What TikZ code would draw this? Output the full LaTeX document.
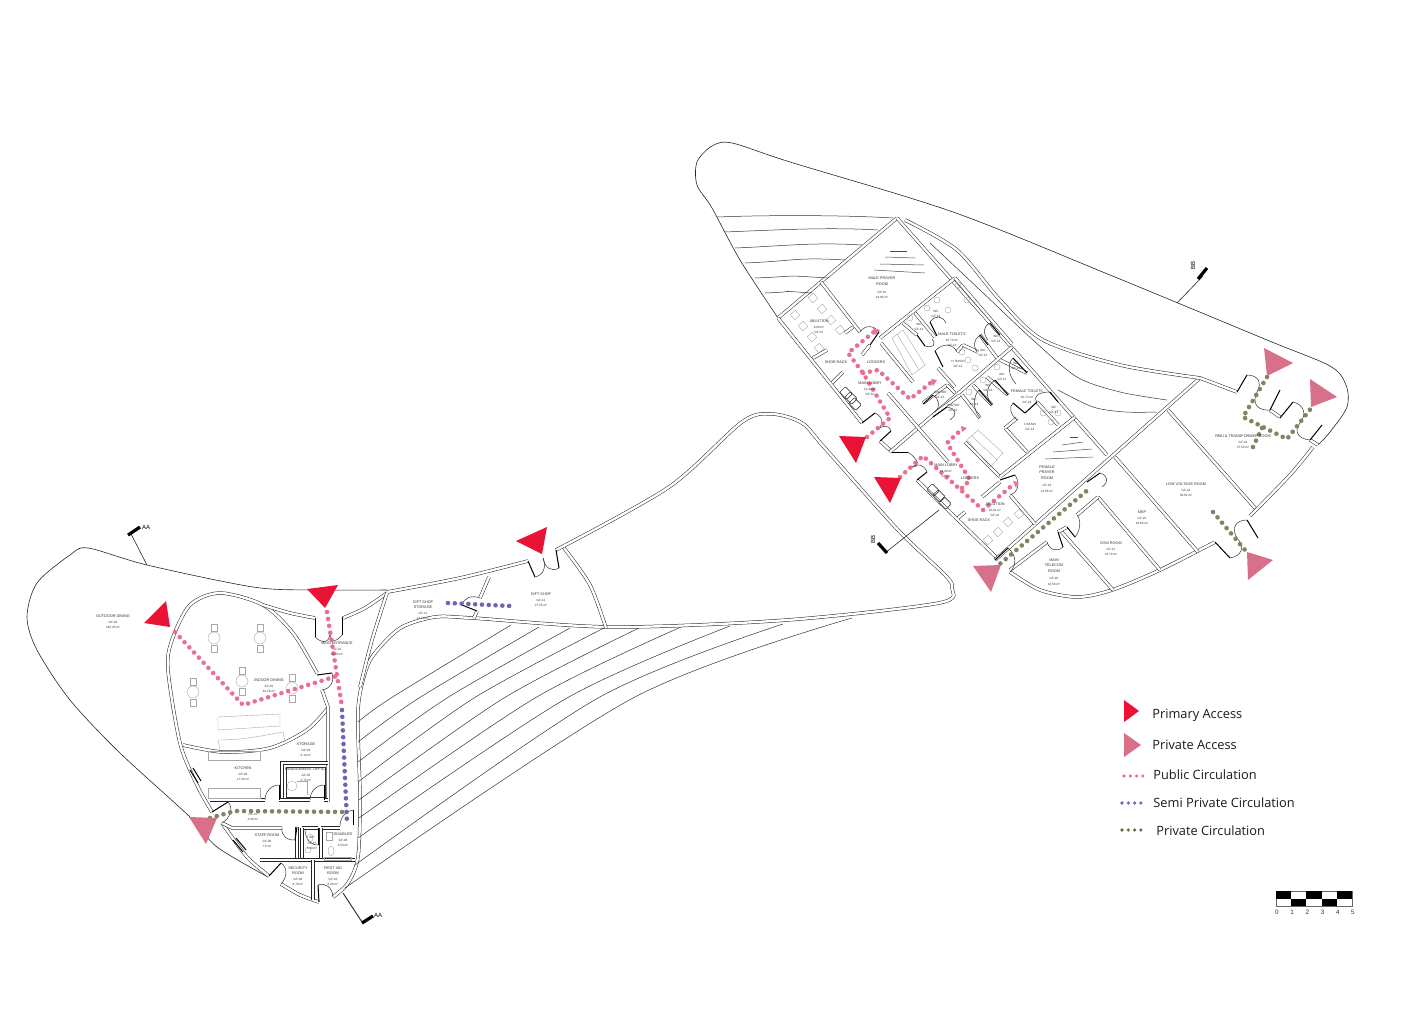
\documentclass[tikz,border=0pt]{standalone}
\usepackage{fontspec}
\setmainfont{Liberation Sans}
\newfontfamily\legendfont{Open Sans}
\usetikzlibrary{calc}
\definecolor{primred}{HTML}{EA1235}
\definecolor{privpink}{HTML}{D9708A}
\definecolor{pubdot}{HTML}{E9718F}
\definecolor{semidot}{HTML}{6F65B2}
\definecolor{olivedot}{HTML}{7F8560}
\definecolor{olivekey}{HTML}{6B6845}
\definecolor{fixgray}{HTML}{A8A8A8}
\newcommand{\subl}[1]{{\fontsize{1.55}{2.4}\selectfont #1}}
% hinge, open end of leaf, end of swing
\newcommand{\door}[3]{\draw[leaf] (#1) -- (#2);
  \draw[swing] (#2) .. controls ($(#2)+.55*(#3)-.55*(#1)$) and ($(#3)+.55*(#2)-.55*(#1)$) .. (#3);}
\begin{document}
\begin{tikzpicture}[x=0.5pt,y=-0.5pt,
    site/.style ={draw=black!85, line width=.3pt},
    wall/.style ={draw=black!85, line width=.25pt, double=white, double distance=1.2pt},
    stripeline/.style ={draw=black!80, line width=.25pt},
    leaf/.style ={draw=black, line width=.5pt},
    swing/.style ={draw=black!80, line width=.25pt},
    fixture/.style ={draw=fixgray, line width=.2pt},
    hatch/.style ={draw=black!70, line width=.25pt},
    roomtxt/.style ={align=center, inner sep=0pt, text=black!80, font=\fontsize{1.9}{2.7}\selectfont},
    keytxt/.style ={anchor=west, inner sep=0pt, text=black!90, font=\legendfont\fontsize{6.4}{8}\selectfont},
    scaletxt/.style ={inner sep=0pt, text=black!80, font=\fontsize{3.2}{4}\selectfont},
    cuttxt/.style ={inner sep=0pt, text=black, font=\fontsize{3}{4}\selectfont},
    primtri/.style ={fill=primred, draw=none},
    privtri/.style ={fill=privpink, draw=none},
    pubpath/.style ={draw=pubdot, line width=2.3pt, line cap=round, dash pattern=on 0pt off 3.5pt},
    semipath/.style ={draw=semidot, line width=2.3pt, line cap=round, dash pattern=on 0pt off 3.4pt},
    privpath/.style ={draw=olivedot, line width=2.3pt, line cap=round, dash pattern=on 0pt off 3.5pt},
    tipmark/.style ={fill=pubdot, draw=none}]
  \useasboundingbox (0,0) rectangle (1413,1012);

  % site outlines
  \draw[site] plot[smooth] coordinates {(268,877) (217,847) (190,817) (120,753) (70,700) (37,650) (27,617) (37,583) (70,555) (88,548) (147,565) (253,587) (313,590) (387,590)};
  \draw[site] plot[smooth] coordinates {(778,318) (740,260) (712,208) (697,185) (697,162) (712,146) (732,143) (790,162) (953,212) (1110,275) (1267,340) (1330,366) (1346,385) (1347,407) (1330,432) (1318,445)};

  % middle wing
  \draw[wall] plot[smooth] coordinates {(387,592) (460,578) (528,561)};
  \draw[wall] plot[smooth] coordinates {(556,550) (669,487) (742,422) (772,414) (802,423) (824,447) (898,530) (945,575) (952,588) (939,603) (787,620) (613,627) (472,618) (435,617) (402,627) (380,647) (367,667) (358,710) (360,797) (358,857) (348,883) (333,897)};
  \draw[wall] plot[smooth] coordinates {(564,548) (590,585) (606,628)};
  \draw[wall] (489,577) -- (480,598);
  \draw[wall] (477,611) -- (474,618);
  \door{528,561}{535,577}{543,558}
  \door{556,550}{559,568}{543,558}
  \door{477,611}{462,605}{480,598}

  % parking stripes
  \foreach \a/\b/\c/\d/\e in {358/722/391/511/625,358/742/419/539/627,358/762/447/570/628,358/782/474/604/628,359/800/504/639/628,359/818/535/681/627,358/838/567/730/626,355/865/598/783/624,345/888/633/852/618}
    \draw[stripeline] plot[smooth] coordinates {(\a,\b) (\c,698) (\d,\e)};

  % left building walls
  \draw[wall] plot[smooth] coordinates {(317,673) (293,633) (263,605) (220,593) (190,605) (172,640) (168,670) (180,743) (197,785) (212,812)};
  \draw[wall] plot[smooth] coordinates {(222,823) (247,857) (269,876)};
  \draw[wall] plot[smooth] coordinates {(281,884) (300,895) (319,902)};
  \draw[wall] plot[smooth] coordinates {(263,605) (290,613) (315,618)};
  \draw[wall] plot[smooth] coordinates {(343,618) (365,608) (387,593)};
  \draw[wall] plot[smooth] coordinates {(387,593) (372,640) (360,687)};
  \draw[wall] plot[smooth] coordinates {(183,745) (223,752) (270,748) (307,730) (328,708)};
  \draw[wall] (322,690) -- (328,707) -- (328,802);
  \draw[wall] (282,800) -- (282,763) -- (328,763);
  \draw[wall] (210,800) -- (265,800);
  \draw[wall] (279,800) -- (310,800);
  \draw[wall] (324,800) -- (328,800);
  \draw[wall] (222,823) -- (232,828) -- (282,828);
  \draw[wall] (297,827) -- (297,860);
  \draw[wall] (302,828) -- (318,828);
  \draw[wall] (302,828) -- (302,860);
  \draw[wall] (321,828) -- (340,828);
  \draw[wall] (321,828) -- (321,860);
  \draw[wall] (260,860) -- (355,860);
  \draw[wall] (313,860) -- (313,900);
  \draw[swing] (286,767) rectangle (325,797);
  \door{315,618}{315,637}{330,632}
  \door{342,617}{342,635}{330,632}
  \door{317,675}{332,673}{322,690}
  \door{279,800}{279,785}{265,800}
  \door{324,800}{324,785}{310,800}
  \door{212,812}{228,802}{222,823}
  \door{297,827}{295,840}{282,828}
  \door{318,828}{318,845}{305,829}
  \door{353,825}{353,810}{340,826}
  \door{269,876}{281,863}{281,884}
  \door{319,902}{318,885}{333,897}
  \draw[leaf] (190,770) -- (198,783);
  \draw[leaf] (193,768) -- (201,781);
  \draw[leaf] (233,840) -- (243,852);
  \draw[leaf] (236,838) -- (246,850);

  % dining furniture
  \foreach \x/\y [count=\i] in {214/638,260/638,242/681,292/688,193/692} {
    \draw[fixture] (\x,\y) circle (6);
    \draw[fixture] (\x-3,\y-14) rectangle (\x+3,\y-7);
    \draw[fixture] (\x-3,\y+7) rectangle (\x+3,\y+14);
  }
  \draw[fixture] (218,717) -- (280,714) -- (280,726) -- (218,730) -- cycle;
  \draw[fixture] (218,740) .. controls (245,740) and (265,735) .. (283,732);
  \draw[fixture] (218,740) -- (220,749);
  \draw[fixture] (283,732) -- (285,742);
  \draw[fixture] (208,751) rectangle (260,760);
  \draw[fixture] (208,788) rectangle (260,798);
  \draw[fixture] (292,786) circle (5);
  \draw[fixture] (297,781) -- (307,781) -- (307,795);
  \draw[fixture] (310,838) ellipse (3 and 4);
  \draw[fixture] (308,850) circle (3);
  \draw[fixture] (326,832) rectangle (332,840);
  \draw[fixture] (331,851) ellipse (3 and 5);
  \draw[fixture] (324,857) rectangle (351,860);

  % right building, envelope
  \draw[wall] (778,318) -- (897,218);
  \draw[wall] (897,218) -- (1107,455);
  \draw[wall] (778,318) -- (862,423);
  \draw[wall] (880,441) -- (892,452);
  \draw[wall] (917,480) -- (997,558);
  \draw[wall] (995,560) -- (1200,378) -- (1237,392);
  \draw[wall] plot[smooth] coordinates {(1010,572) (1040,590) (1077,597) (1112,590) (1160,570) (1215,542)};
  \draw[wall] plot[smooth] coordinates {(1250,516) (1290,475) (1313,447)};

  % curves above the building
  \draw[wall] plot[smooth] coordinates {(905,220) (957,250) (1000,300) (1043,340) (1120,365) (1200,378)};
  \draw[stripeline] plot[smooth] coordinates {(930,243) (980,290) (1033,340) (1077,377) (1120,392) (1167,400)};
  \draw[stripeline] plot[smooth] coordinates {(1058,390) (1093,407) (1125,412) (1157,412)};
  \foreach \a/\b/\c/\d in {717/217/893/218,725/232/878/230,735/248/862/245,745/263/845/260,755/278/828/278,765/293/812/293}
    \draw[stripeline] (\a,\b) .. controls (\a+50,\b-2) and (\c-50,\d-3) .. (\c,\d);

  % right building, rooms
  \draw[wall] (821,282) -- (860,332);
  \draw[wall] (880,338) -- (955,278);
  \draw[wall] (890,452) -- (1012,347);
  \draw[wall] (881,343) -- (913,382);
  \draw[wall] (888,393) -- (948,462);
  \draw[wall] (965,442) -- (1000,477);
  \draw[wall] (1000,477) -- (1075,417);
  \draw[wall] (982,497) -- (1000,482);
  \draw[wall] (1010,495) -- (1035,524);
  \draw[wall] (955,278) -- (1012,344);
  \draw[wall] (845,333) -- (853,327);
  \draw[wall] (862,355) -- (870,345);
  \draw[wall] (813,358) -- (827,350);
  \draw[wall] (832,383) -- (843,372);
  \draw[wall] (958,518) -- (965,512);
  \draw[wall] (1115,457) -- (1198,552);
  \draw[wall] (1168,410) -- (1255,508);
  \draw[wall] (1098,497) -- (1160,570);
  \draw[wall] (1060,530) -- (1113,590);
  \draw[wall] (1010,570) -- (1047,542);
  \draw[wall] (1058,532) -- (1067,527);
  \draw[wall] (1077,515) -- (1098,497);
  \draw[wall] (1270,410) -- (1280,417);
  \draw[wall] (1310,440) -- (1318,445);

  % toilets
  \foreach \a/\b/\c/\d in {903/323/917/335,915/313/935/337,938/368/955/387,957/352/963/345,963/345/978/352,980/335/997/358,962/395/980/418,973/385/992/405,987/377/1008/395,1000/360/1027/373,1005/428/1027/452,1005/428/1017/418,1037/402/1058/425,923/403/947/385,933/415/960/395,947/385/955/393}
    \draw[wall] (\a,\b) -- (\c,\d);
  \door{862,423}{875,413}{877,430}
  \door{880,441}{891,431}{877,430}
  \door{892,452}{908,452}{912,467}
  \door{917,480}{927,472}{912,467}
  \door{870,345}{879,332}{860,332}
  \door{1000,480}{1015,475}{1010,495}
  \door{917,335}{925,346}{932,339}
  \door{937,336}{930,322}{946,323}
  \door{943,367}{935,351}{957,352}
  \door{988,345}{980,335}{977,352}
  \door{1000,335}{990,323}{988,340}
  \door{992,405}{979,390}{980,418}
  \door{1008,395}{995,380}{992,405}
  \door{1027,373}{1013,358}{1016,384}
  \door{1025,413}{1013,403}{1017,420}
  \draw[leaf] (1025,413) -- (1037,402);
  \door{1058,402}{1050,392}{1037,402}
  \door{923,404}{933,395}{935,412}
  \door{933,417}{947,407}{950,420}
  \door{1087,482}{1100,473}{1102,487}
  \door{1058,532}{1063,547}{1047,542}
  \door{1067,527}{1075,537}{1077,515}
  \door{995,560}{1008,548}{1010,572}
  \door{1215,542}{1230,558}{1237,538}
  \door{1258,538}{1247,520}{1237,538}
  \door{1237,392}{1247,375}{1257,392}
  \door{1280,390}{1270,410}{1257,392}
  \door{1280,418}{1293,402}{1300,423}
  \door{1322,425}{1310,440}{1300,423}

  % fixtures
  \foreach \x/\y [count=\i] in {813/298,822/309,795/315,803/326,831/320,812/337,840/330,819/348,988/540,998/532,1008/522,1019/514} {
    \node[fixture, draw, rotate=40, minimum size=3.4pt, inner sep=0pt] (fix\i) at (\x,\y) {};
  }
  \foreach \x/\y in {910/318,927/308,962/352,968/360,975/368,997/367,983/380,969/392,1043/413,1051/422,1058/413,937/300,948/310,958/285,967/300}
    \draw[fixture] (\x,\y) circle (3);
  \draw[fixture] (892,338) -- (903,330) -- (925,365) -- (912,375) -- cycle;
  \draw[fixture] (897,334) -- (919,370);
  \draw[fixture] (967,440) -- (978,430) -- (1003,453) -- (990,467) -- cycle;
  \draw[fixture] (972,436) -- (997,460);
  \foreach \x/\y [count=\i] in {846/393,851/398,855/404,933/490,939/496,945/503} {
    \node[draw=black!75, line width=.3pt, rotate=45, minimum width=4pt, minimum height=5pt, inner sep=0pt, rounded corners=.5pt] (seat\i) at (\x,\y) {};
  }
  \draw[hatch] (890,251) -- (907,251);
  \draw[hatch] (885,257) -- (915,258);
  \draw[hatch] (880,264) -- (924,265);
  \draw[hatch] (874,270) -- (925,273);
  \draw[hatch] (1070,437) -- (1078,437);
  \draw[hatch] (1062,445) -- (1083,442);
  \draw[hatch] (1053,452) -- (1092,449);
  \draw[hatch] (1045,459) -- (1093,457);

  % circulation
  \draw[pubpath] (175,632) -- (243,705) -- (337,676);
  \draw[pubpath] (327,612) -- (342,707);
  \draw[semipath] (342,710) -- (347,823);
  \draw[semipath] (448,603) -- (511,606);
  \draw[privpath] (210,818) -- (235,811) -- (347,812);
  \draw[pubpath] (867,437) -- (890,418) -- (863,373) -- (848,353) -- (875,331);
  \draw[pubpath] (863,373) -- (878,370) -- (910,399) -- (933,381);
  \draw[pubpath] (900,477) -- (923,456) -- (983,510) -- (1015,483);
  \draw[pubpath] (962,488) -- (970,480) -- (947,443) -- (963,428);
  \draw[privpath] (995,568) -- (1090,488);
  \draw[privpath] (1213,512) -- (1245,550);
  \draw[privpath] (1267,377) -- (1243,417) -- (1287,439) -- (1312,407);
  \draw[privpath] (1253,447) -- (1262,428);
  \fill[tipmark] (873,328) -- (880,330) -- (875,335) -- cycle;
  \fill[tipmark] (931,379) -- (937,380) -- (933,386) -- cycle;
  \fill[tipmark] (1013,481) -- (1018,482) -- (1016,488) -- cycle;
  \fill[tipmark] (961,426) -- (967,428) -- (962,432) -- cycle;

  % access triangles
  \fill[primtri] (144,623) -- (166,601) -- (170,627) -- cycle;
  \fill[primtri] (307,589) -- (338,585) -- (325,608) -- cycle;
  \fill[primtri] (516,541) -- (547,527) -- (542,554) -- cycle;
  \fill[primtri] (839,436) -- (866,437) -- (856,463) -- cycle;
  \fill[primtri] (874,477) -- (901,478) -- (890,503) -- cycle;
  \fill[privtri] (189,817) -- (217,818) -- (206,844) -- cycle;
  \fill[privtri] (973,566) -- (1001,565) -- (991,592) -- cycle;
  \fill[privtri] (1247,552) -- (1273,560) -- (1248,580) -- cycle;
  \fill[privtri] (1264,348) -- (1293,363) -- (1267,376) -- cycle;
  \fill[privtri] (1310,379) -- (1337,397) -- (1311,407) -- cycle;

  % section marks
  \draw[site] (147,565) -- (130,532);
  \draw[line width=1.6pt] (128,535) -- (140,527);
  \node[cuttxt] (aatop) at (146,527) {AA};
  \draw[site, line width=.45pt] (343,893) -- (362,922);
  \draw[line width=1.6pt] (362,923) -- (373,916);
  \node[cuttxt] (aabot) at (378,915) {AA};
  \draw[site] (1177,303) -- (1203,276);
  \draw[line width=1.6pt] (1198,279) -- (1207,268);
  \node[cuttxt, rotate=90] (bbtop) at (1193,265) {BB};
  \draw[site] (939,510) -- (885,553);
  \draw[line width=1.6pt] (878,543) -- (887,553);
  \node[cuttxt, rotate=90] (bbbot) at (873,539) {BB};

  % room labels, left
  \node[roomtxt] (outdoor) at (113,622) {OUTDOOR DINING\\ \subl{GF-02}\\ \subl{136.45 m²}};
  \node[roomtxt] (mainent) at (337,649) {MAIN ENTRANCE\\ \subl{GF-01}\\ \subl{15.68 m²}};
  \node[roomtxt] (indoor) at (269,686) {INDOOR DINING\\ \subl{GF-02}\\ \subl{81.28 m²}};
  \node[roomtxt] (storage) at (306,750) {STORAGE\\ \subl{GF-04}\\ \subl{9.10 m²}};
  \node[roomtxt] (kitchen) at (243,774) {KITCHEN\\ \subl{GF-03}\\ \subl{17.28 m²}};
  \node[roomtxt] (mgmt) at (306,775) {MANAGEMENT OFFICE\\ \subl{GF-05}\\ \subl{3.75 m²}};
  \node[roomtxt] (corr) at (253,817) {\subl{GF-15}\\ \subl{4.00 m²}};
  \node[roomtxt] (staff) at (267,841) {STAFF ROOM\\ \subl{GF-06}\\ \subl{7.6 m²}};
  \node[roomtxt] (wc) at (312,843) {\subl{WC}\\ \subl{GF-07}\\ \subl{2.40 m²}};
  \node[roomtxt] (disabled) at (343,840) {DISABLED\\ \subl{GF-08}\\ \subl{4.54 m²}};
  \node[roomtxt] (security) at (298,876) {SECURITY\\ROOM\\ \subl{GF-09}\\ \subl{8.76 m²}};
  \node[roomtxt] (firstaid) at (333,876) {FIRST AID\\ROOM\\ \subl{GF-10}\\ \subl{8.60 m²}};
  \node[roomtxt] (giftstor) at (423,610) {GIFT SHOP\\STORAGE\\ \subl{GF-11}\\ \subl{12.29 m²}};
  \node[roomtxt] (gift) at (541,600) {GIFT SHOP\\ \subl{GF-12}\\ \subl{27.55 m²}};

  % room labels, right
  \node[roomtxt] (maleprayer) at (882,288) {MALE PRAYER\\ROOM\\[1.5pt] \subl{GF-01}\\ \subl{24.96 m²}};
  \node[roomtxt] (ablumale) at (819,327) {ABLUTION\\ \subl{8.00 m²}\\ \subl{GF-07}};
  \node[roomtxt] (shoemale) at (836,362) {SHOE RACK};
  \node[roomtxt] (lockmale) at (876,362) {LOCKERS};
  \node[roomtxt] (lobbymale) at (870,389) {MAIN LOBBY\\ \subl{11.40 m²}\\ \subl{GF-01}};
  \node[roomtxt] (toilmale) at (952,340) {MALE TOILETS\\ \subl{45.72 m²}\\ \subl{GF-13}};
  \node[roomtxt] (toilfem) at (1027,397) {FEMALE TOILETS\\ \subl{45.72 m²}\\ \subl{GF-13}};
  \node[roomtxt] (lshapem) at (958,364) {\subl{H. BASIN}\\ \subl{GF-13}};
  \node[roomtxt] (lshapef) at (1030,427) {\subl{1 BASIN}\\ \subl{GF-13}};
  \node[roomtxt] (janm) at (940,395) {\subl{JANITOR}\\ \subl{GF-15}};
  \node[roomtxt] (janf) at (953,408) {\subl{JANITOR}\\ \subl{GF-15}};
  \foreach \x/\y [count=\i] in {919/327,936/314,996/339,983/353,1016/366,1002/377,988/388,974/402,1054/410}
    \node[roomtxt] (wclabel\i) at (\x,\y) {\subl{WC}\\ \subl{GF-13}};
  \node[roomtxt] (lobbyfem) at (946,471) {MAIN LOBBY\\ \subl{11.40 m²}\\ \subl{GF-01}};
  \node[roomtxt] (lockfem) at (970,478) {LOCKERS};
  \node[roomtxt] (ablufem) at (995,510) {ABLUTION\\ \subl{10.91 m²}\\ \subl{GF-16}};
  \node[roomtxt] (shoefem) at (979,520) {SHOE RACK};
  \node[roomtxt] (femprayer) at (1047,479) {FEMALE\\PRAYER\\ROOM\\[1pt] \subl{GF-16}\\ \subl{21.56 m²}};
  \node[roomtxt] (telecom) at (1054,572) {MAIN\\TELECOM\\ROOM\\[1pt] \subl{GF-20}\\ \subl{10.59 m²}};
  \node[roomtxt] (gsm) at (1111,549) {GSM ROOM\\ \subl{GF-21}\\ \subl{16.70 m²}};
  \node[roomtxt] (mep) at (1142,518) {MEP\\ \subl{GF-22}\\ \subl{18.60 m²}};
  \node[roomtxt] (lowvolt) at (1186,490) {LOW VOLTAGE ROOM\\ \subl{GF-23}\\ \subl{38.02 m²}};
  \node[roomtxt] (rmu) at (1243,442) {RMU \& TRANSFORMER ROOM\\ \subl{GF-24}\\ \subl{37.50 m²}};

  % legend
  \fill[primtri] (1124,700) -- (1139,711) -- (1124,722) -- cycle;
  \fill[privtri] (1124,733) -- (1141,745) -- (1124,757) -- cycle;
  \node[keytxt] (keyprim) at (1152,715) {Primary Access};
  \node[keytxt] (keypriv) at (1152,745) {Private Access};
  \node[keytxt] (keypub) at (1153,775) {Public Circulation};
  \node[keytxt] (keysemi) at (1153,803) {Semi Private Circulation};
  \node[keytxt] (keypriv2) at (1156,831) {Private Circulation};
  \foreach \i in {0,1,2,3} {
    \fill[pubdot] (1124+\i*6.3,776) circle (1.8);
    \fill[semidot] (1122+\i*6.3,803) circle (1.8);
    \fill[olivekey] (1122+\i*6.3,830) circle (1.8);
  }

  % scale bar
  \draw[black!60, line width=.25pt] (1276,891) rectangle (1352,906);
  \foreach \i in {0,2,4}
    \fill[black] (1276+\i*15.2,891) rectangle +(15.2,7.5);
  \foreach \i in {1,3}
    \fill[black] (1276+\i*15.2,898.5) rectangle +(15.2,7.5);
  \foreach \i in {0,...,5}
    \node[scaletxt] (tick\i) at (1277+\i*15.2,912) {\i};
\end{tikzpicture}
\end{document}
